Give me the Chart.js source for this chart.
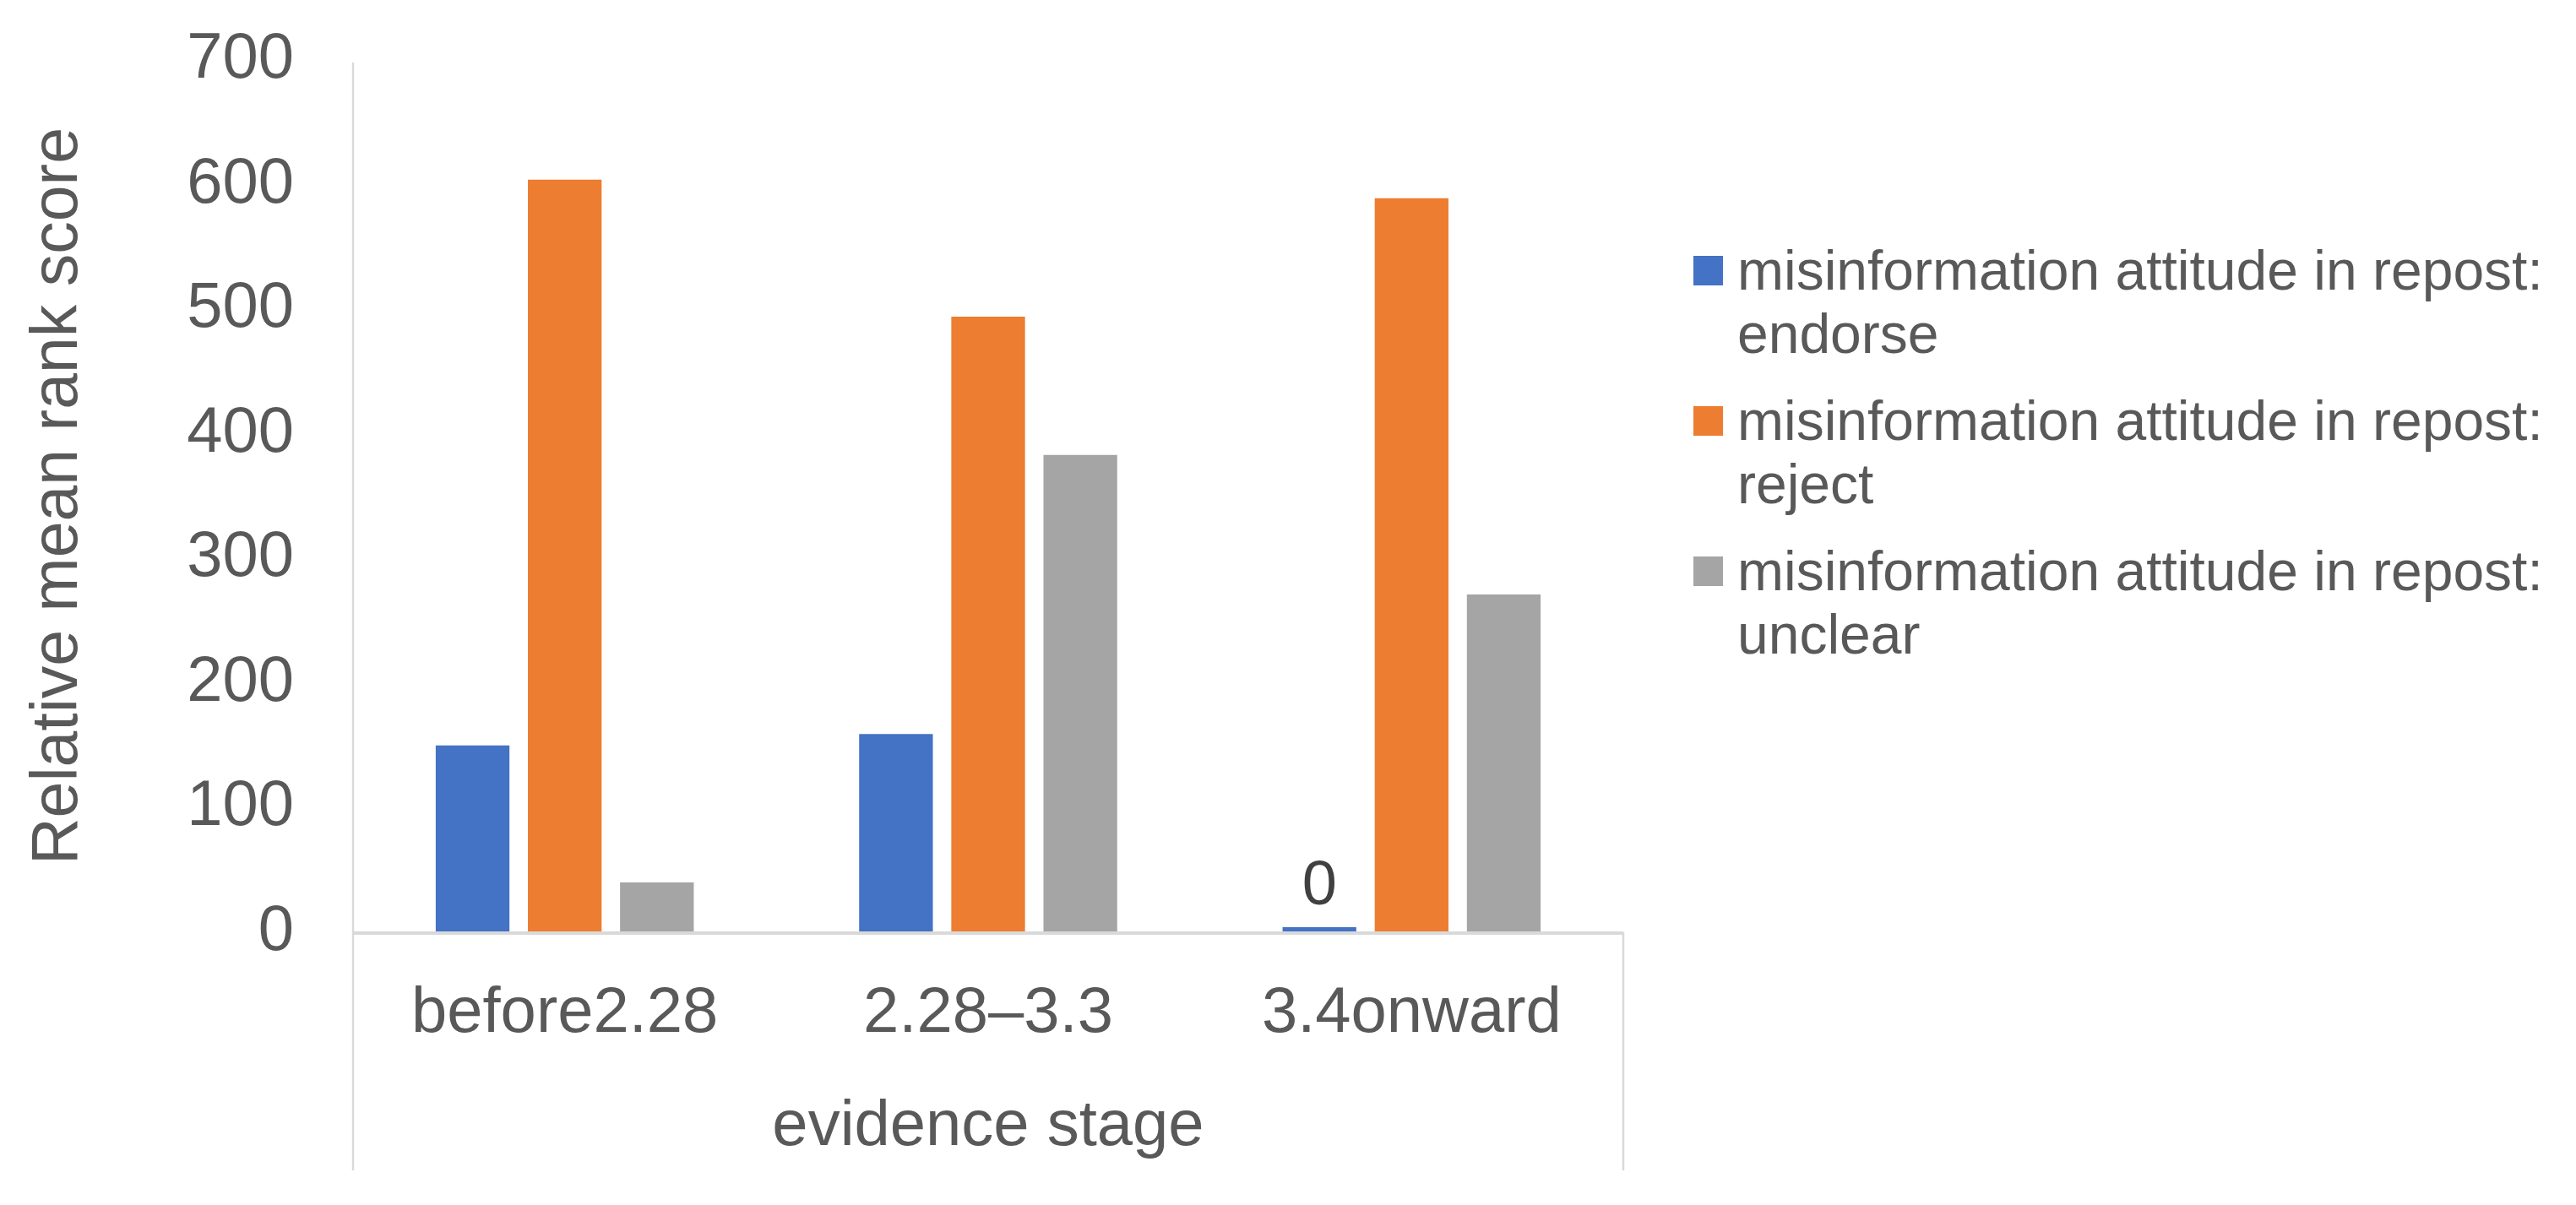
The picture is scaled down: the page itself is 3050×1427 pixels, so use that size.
<!DOCTYPE html>
<html>
<head>
<meta charset="utf-8">
<script src="https://cdn.jsdelivr.net/npm/chart.js@4.4.1/dist/chart.umd.min.js"></script>
<style>
  html, body { margin: 0; padding: 0; background: #fff; }
  canvas { display: block; }
</style>
</head>
<body>
<canvas id="barChart" width="3050" height="1427"></canvas>
<script>
// chart data
const stages = ['before2.28', '2.28\u20133.3', '3.4onward'];
const endorse = [150, 159, 0];
const reject = [604, 494, 589];
const unclear = [40, 383, 271];
const seriesNames = [
    'misinformation attitude in repost: endorse',
    'misinformation attitude in repost: reject',
    'misinformation attitude in repost: unclear'
];
const yTicks = [0, 100, 200, 300, 400, 500, 600, 700];

const FONT = '"Liberation Sans", Arial, sans-serif';
const GREY_TEXT = '#595959';
const AXIS_LINE = '#d9d9d9';

// axis frame like excel's multi-level category axis
const framePlugin = {
    id: 'frame',
    afterDatasetsDraw(chart) {
        const ctx = chart.ctx;
        const a = chart.chartArea;
        const bottomEdge = chart.height - 41;
        ctx.save();
        ctx.strokeStyle = AXIS_LINE;
        ctx.lineWidth = 2.5;
        ctx.beginPath();
        ctx.moveTo(a.left, a.top + 3);
        ctx.lineTo(a.left, bottomEdge);
        ctx.moveTo(a.right, a.bottom);
        ctx.lineTo(a.right, bottomEdge);
        ctx.stroke();
        ctx.lineWidth = 4;
        ctx.beginPath();
        ctx.moveTo(a.left, a.bottom + 1);
        ctx.lineTo(a.right, a.bottom + 1);
        ctx.stroke();
        ctx.restore();
    }
};

// the "0" label over the empty endorse bar
const zeroLabelPlugin = {
    id: 'zeroLabel',
    afterDatasetsDraw(chart) {
        const ctx = chart.ctx;
        const meta = chart.getDatasetMeta(0);
        ctx.save();
        ctx.font = '74px ' + FONT;
        ctx.fillStyle = '#404040';
        ctx.textAlign = 'center';
        ctx.textBaseline = 'alphabetic';
        endorse.forEach((v, i) => {
            if (v === 0) {
                const bar = meta.data[i];
                ctx.fillText(String(v), bar.x, bar.y - 27);
            }
        });
        ctx.restore();
    }
};

// right side legend with wrapped labels
const sideLegendPlugin = {
    id: 'sideLegend',
    afterDraw(chart) {
        const ctx = chart.ctx;
        const x0 = 2005, textX = 2057, maxW = 990;
        let baseY = 343;
        ctx.save();
        ctx.font = '66px ' + FONT;
        ctx.textAlign = 'left';
        ctx.textBaseline = 'alphabetic';
        chart.data.datasets.forEach(ds => {
            const words = ds.label.split(' ');
            const lines = [];
            let cur = '';
            words.forEach(w => {
                const test = cur ? cur + ' ' + w : w;
                if (ctx.measureText(test).width > maxW && cur) {
                    lines.push(cur);
                    cur = w;
                } else {
                    cur = test;
                }
            });
            lines.push(cur);
            ctx.fillStyle = ds.backgroundColor;
            ctx.fillRect(x0, baseY - 40, 35, 35);
            ctx.fillStyle = GREY_TEXT;
            lines.forEach((ln, k) => ctx.fillText(ln, textX, baseY + k * 75));
            baseY += 178;
        });
        ctx.restore();
    }
};

const ctx = document.getElementById('barChart').getContext('2d');
new Chart(ctx, {
    type: 'bar',
    data: {
        labels: stages,
        datasets: [
            { label: seriesNames[0], data: endorse, backgroundColor: '#4472C4', minBarLength: 6 },
            { label: seriesNames[1], data: reject, backgroundColor: '#ED7D31' },
            { label: seriesNames[2], data: unclear, backgroundColor: '#A5A5A5' }
        ]
    },
    options: {
        responsive: false,
        devicePixelRatio: 1,
        animation: false,
        categoryPercentage: 0.653,
        barPercentage: 0.8,
        layout: { padding: { left: 0, top: 71, right: 1128, bottom: 0 } },
        plugins: {
            legend: { display: false },
            tooltip: { enabled: false }
        },
        scales: {
            x: {
                grid: { display: false, drawTicks: false },
                border: { display: false },
                ticks: {
                    color: GREY_TEXT,
                    font: { family: FONT, size: 76 },
                    padding: 51,
                    maxRotation: 0
                },
                title: {
                    display: true,
                    text: 'evidence stage',
                    color: GREY_TEXT,
                    font: { family: FONT, size: 76 },
                    padding: { top: 0, bottom: 46 }
                },
                afterFit(scale) { scale.height = 323; }
            },
            y: {
                min: 0,
                max: 700,
                grid: { display: false, drawTicks: false },
                border: { display: false },
                afterBuildTicks(scale) { scale.ticks = yTicks.map(v => ({ value: v })); },
                ticks: {
                    color: GREY_TEXT,
                    font: { family: FONT, size: 76 },
                    padding: 70
                },
                title: {
                    display: true,
                    text: 'Relative mean rank score',
                    color: GREY_TEXT,
                    font: { family: FONT, size: 77 },
                    padding: { top: 24, bottom: 0 }
                },
                afterFit(scale) {
                    scale.width = 418;
                    scale.paddingTop = 0;
                    scale.paddingBottom = 0;
                }
            }
        }
    },
    plugins: [framePlugin, zeroLabelPlugin, sideLegendPlugin]
});
</script>
</body>
</html>
